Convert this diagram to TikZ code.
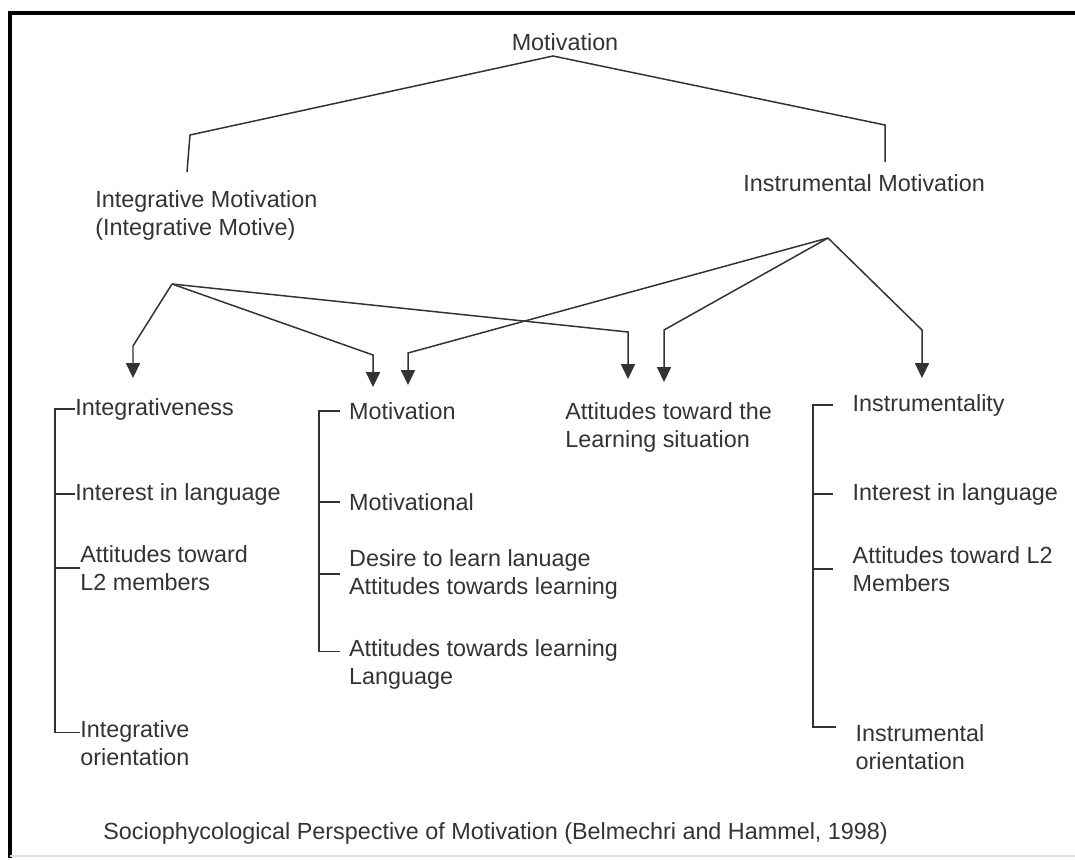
\documentclass[tikz,border=0pt]{standalone}
\usepackage{fontspec}
\setmainfont{Liberation Sans}
\usetikzlibrary{arrows.meta}
\definecolor{ink}{rgb}{0.2,0.2,0.2}
\tikzset{link/.style={draw=ink, line width=0.85pt}}
\tikzset{arrow/.style={link, -{Triangle[width=8pt,length=8.5pt]}}}
\tikzset{term/.style={text=ink, inner sep=0pt, anchor=west, align=left, font=\fontsize{13.3}{15.9}\selectfont}}
\tikzset{midterm/.style={term, inner xsep=5pt}}
\tikzset{rightterm/.style={term, inner xsep=11pt}}

\begin{document}
\begin{tikzpicture}[x=0.02cm, y=-0.02cm]
\useasboundingbox (0,0) rectangle (1075,859);
\draw[line width=2.2pt] (10,858) -- (10,13) -- (1075,13);
\draw[gray!25, line width=1pt] (10,856) -- (1075,856);

\node[term, anchor=center] (top) at (565,42) {Motivation};
\node[term] (integ) at (95,215) {Integrative Motivation\\(Integrative Motive)};
\node[term] (instr) at (743,183) {Instrumental Motivation};
\coordinate (apex) at (553,56);
\coordinate (lknee) at (190,135);
\coordinate (lend) at (187,172);
\coordinate (rknee) at (885,125);
\coordinate (rend) at (885,162);
\draw[link] (lend) -- (lknee) -- (apex) -- (rknee) -- (rend);

\coordinate (ihub) at (172,284);
\coordinate (mhub) at (828,238);
\coordinate (b1) at (133,346);
\coordinate (t1) at (133,378);
\coordinate (b2) at (373,355);
\coordinate (t2) at (373,387);
\coordinate (b3) at (408,353);
\coordinate (t3) at (408,385);
\coordinate (b4) at (628,332);
\coordinate (t4) at (628,379);
\coordinate (b5) at (664,330);
\coordinate (t5) at (664,382);
\coordinate (b6) at (922,330);
\coordinate (t6) at (922,378);
\draw[arrow] (ihub) -- (b1) -- (t1);
\draw[arrow] (ihub) -- (b2) -- (t2);
\draw[arrow] (ihub) -- (b4) -- (t4);
\draw[arrow] (mhub) -- (b3) -- (t3);
\draw[arrow] (mhub) -- (b5) -- (t5);
\draw[arrow] (mhub) -- (b6) -- (t6);

\node[term] (integr) at (75,409) {Integrativeness};
\node[term] (interestA) at (75,494) {Interest in language};
\node[term] (attA) at (80,568) {Attitudes toward\\L2 members};
\node[term] (orientA) at (80,743) {Integrative\\orientation};
\draw[link] (integr.west) -- ++(-20,0) |- ([yshift=6pt]orientA.west);
\draw[link] (interestA.west) -- ++(-20,0);
\draw[link] (attA.west) -- ++(-25,0);

\node[midterm] (motiv) at (340,411) {Motivation};
\node[midterm] (motional) at (340,502) {Motivational};
\node[midterm] (desire) at (340,574) {Desire to learn lanuage\\Attitudes towards learning};
\node[midterm] (attlang) at (340,664) {Attitudes towards learning\\Language};
\draw[link] (motiv.west) -- ++(-21,0) |- ([yshift=7pt]attlang.west);
\draw[link] (motional.west) -- ++(-21,0);
\draw[link] (desire.west) -- ++(-21,0);

\node[term] (situation) at (565,427) {Attitudes toward the\\Learning situation};

\node[rightterm] (instrum) at (833,405) {Instrumentality};
\node[rightterm] (interestB) at (833,494) {Interest in language};
\node[rightterm] (attB) at (833,569) {Attitudes toward L2\\Members};
\node[rightterm] (orientB) at (836,747) {Instrumental\\orientation};
\draw[link] (instrum.west) -- ++(-20,0) |- ([yshift=11.5pt]orientB.west);
\draw[link] (interestB.west) -- ++(-20,0);
\draw[link] (attB.west) -- ++(-20,0);

\node[term] (caption) at (103,833) {Sociophycological Perspective of Motivation (Belmechri and Hammel, 1998)};
\end{tikzpicture}
\end{document}
